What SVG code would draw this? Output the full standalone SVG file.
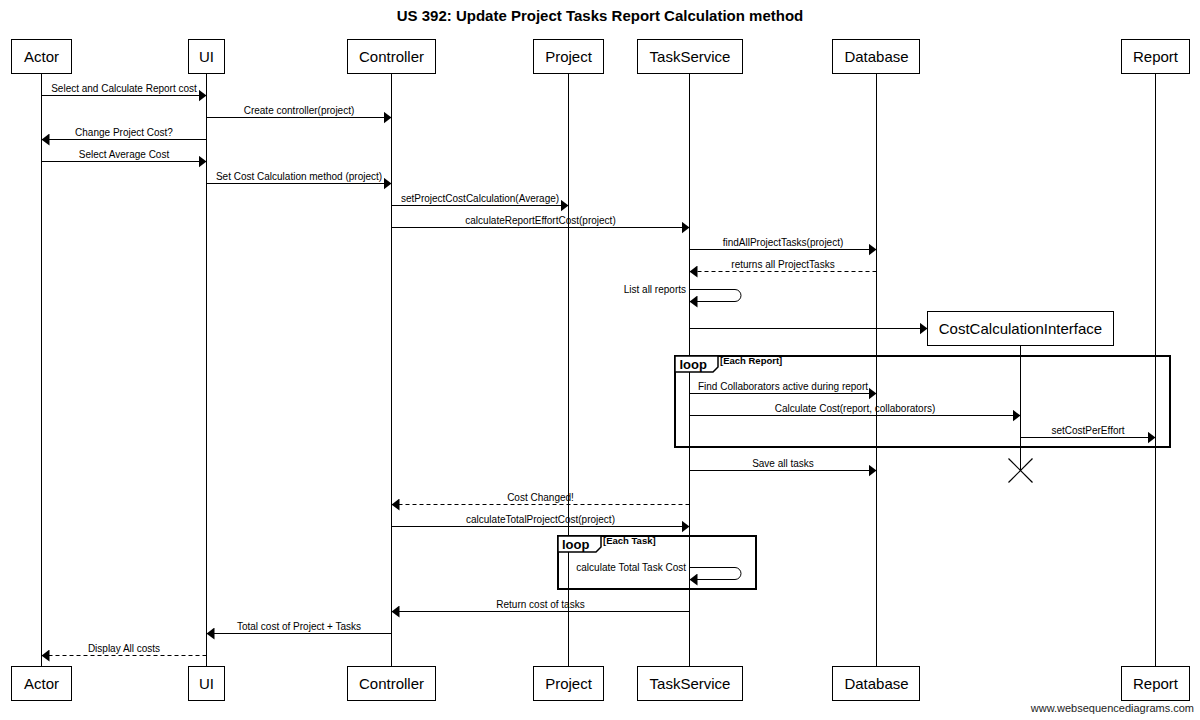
<svg xmlns="http://www.w3.org/2000/svg" width="1200" height="720" viewBox="0 0 1200 720">
<defs>
<style>
text{font-family:"Liberation Sans",Arial,sans-serif;fill:#000}
.title{font-size:15px;font-weight:bold;text-anchor:middle}
.pbox{fill:#fff;stroke:#000;stroke-width:1}
.pname{font-size:15px;text-anchor:middle}
.life{stroke:#000;stroke-width:1;fill:none}
.msg{stroke:#000;stroke-width:1;fill:none;marker-end:url(#arrow)}
.dash{stroke-dasharray:4 3}
.lbl{font-size:10px;text-anchor:middle}
.lblr{font-size:10px;text-anchor:end}
.frame{fill:none;stroke:#000;stroke-width:2}
.tab{fill:#fff;stroke:#000;stroke-width:1.5}
.kw{font-size:13px;font-weight:bold}
.cond{font-size:9.5px;font-weight:bold}
.wm{font-size:11px;text-anchor:end;fill:#222}
</style>
<marker id="arrow" markerUnits="userSpaceOnUse" markerWidth="8" markerHeight="12" refX="8" refY="6" orient="auto">
<path d="M0,0 L8,6 L0,12 Z" fill="#000"/>
</marker>
</defs>
<rect width="1200" height="720" fill="#fff"/>
<text class="title" x="600" y="21">US 392: Update Project Tasks Report Calculation method</text>

<g id="lifelines">
<line class="life" x1="41.5" y1="73.5" x2="41.5" y2="666.5"/>
<line class="life" x1="206.5" y1="73.5" x2="206.5" y2="666.5"/>
<line class="life" x1="391.5" y1="73.5" x2="391.5" y2="666.5"/>
<line class="life" x1="568.5" y1="73.5" x2="568.5" y2="666.5"/>
<line class="life" x1="689.5" y1="73.5" x2="689.5" y2="666.5"/>
<line class="life" x1="876.5" y1="73.5" x2="876.5" y2="666.5"/>
<line class="life" x1="1155.5" y1="73.5" x2="1155.5" y2="666.5"/>
<line class="life" x1="1020.5" y1="345.5" x2="1020.5" y2="470.5"/>
</g>

<g id="frames">
<rect class="frame" x="675" y="356" width="495" height="91"/>
<path class="tab" d="M675,356 H718 V367 L713,372 H675 Z"/>
<text class="kw" x="679.5" y="369">loop</text>
<text class="cond" x="720" y="364">[Each Report]</text>
<rect class="frame" x="558" y="536" width="198" height="53"/>
<path class="tab" d="M558,536 H601 V547 L596,552 H558 Z"/>
<text class="kw" x="562" y="549">loop</text>
<text class="cond" x="603" y="544">[Each Task]</text>
</g>

<g id="node-actor">
<rect class="pbox" x="11.5" y="39.5" width="60" height="34"/>
<text class="pname" x="41.5" y="62">Actor</text>
<rect class="pbox" x="11.5" y="666.5" width="60" height="34"/>
<text class="pname" x="41.5" y="689">Actor</text>
</g>
<g id="node-ui">
<rect class="pbox" x="188.5" y="39.5" width="36" height="34"/>
<text class="pname" x="206.5" y="62">UI</text>
<rect class="pbox" x="188.5" y="666.5" width="36" height="34"/>
<text class="pname" x="206.5" y="689">UI</text>
</g>
<g id="node-controller">
<rect class="pbox" x="347.5" y="39.5" width="88" height="34"/>
<text class="pname" x="391.5" y="62">Controller</text>
<rect class="pbox" x="347.5" y="666.5" width="88" height="34"/>
<text class="pname" x="391.5" y="689">Controller</text>
</g>
<g id="node-project">
<rect class="pbox" x="533.5" y="39.5" width="70" height="34"/>
<text class="pname" x="568.5" y="62">Project</text>
<rect class="pbox" x="533.5" y="666.5" width="70" height="34"/>
<text class="pname" x="568.5" y="689">Project</text>
</g>
<g id="node-taskservice">
<rect class="pbox" x="637.5" y="39.5" width="105" height="34"/>
<text class="pname" x="690" y="62">TaskService</text>
<rect class="pbox" x="637.5" y="666.5" width="105" height="34"/>
<text class="pname" x="690" y="689">TaskService</text>
</g>
<g id="node-database">
<rect class="pbox" x="832.5" y="39.5" width="87" height="34"/>
<text class="pname" x="876.5" y="62">Database</text>
<rect class="pbox" x="832.5" y="666.5" width="87" height="34"/>
<text class="pname" x="876.5" y="689">Database</text>
</g>
<g id="node-report">
<rect class="pbox" x="1121.5" y="39.5" width="68" height="34"/>
<text class="pname" x="1155.5" y="62">Report</text>
<rect class="pbox" x="1121.5" y="666.5" width="68" height="34"/>
<text class="pname" x="1155.5" y="689">Report</text>
</g>
<g id="node-costcalculationinterface">
<rect class="pbox" x="927.5" y="311.5" width="186" height="34"/>
<text class="pname" x="1020.5" y="334">CostCalculationInterface</text>
<line x1="1008.5" y1="458.5" x2="1032.5" y2="482.5" stroke="#000" stroke-width="1.2"/>
<line x1="1032.5" y1="458.5" x2="1008.5" y2="482.5" stroke="#000" stroke-width="1.2"/>
</g>

<g id="connectors">
<path class="msg" d="M41.5,95.5 H206.5"/>
<text class="lbl" x="124" y="92">Select and Calculate Report cost</text>
<path class="msg" d="M206.5,117.5 H391.5"/>
<text class="lbl" x="299" y="114">Create controller(project)</text>
<path class="msg" d="M206.5,139.5 H41.5"/>
<text class="lbl" x="124" y="136">Change Project Cost?</text>
<path class="msg" d="M41.5,161.5 H206.5"/>
<text class="lbl" x="124" y="158">Select Average Cost</text>
<path class="msg" d="M206.5,183.5 H391.5"/>
<text class="lbl" x="299" y="180">Set Cost Calculation method (project)</text>
<path class="msg" d="M391.5,205.5 H568.5"/>
<text class="lbl" x="480" y="202">setProjectCostCalculation(Average)</text>
<path class="msg" d="M391.5,227.5 H689.5"/>
<text class="lbl" x="540.5" y="224">calculateReportEffortCost(project)</text>
<path class="msg" d="M689.5,249.5 H876.5"/>
<text class="lbl" x="783" y="246">findAllProjectTasks(project)</text>
<path class="msg dash" d="M876.5,271.5 H689.5"/>
<text class="lbl" x="783" y="268">returns all ProjectTasks</text>
<path class="msg" d="M689.5,289.5 H735 A6,6 0 0 1 735,301.5 H689.5"/>
<text class="lblr" x="686" y="293">List all reports</text>
<path class="msg" d="M689.5,328.5 H927.5"/>
<path class="msg" d="M689.5,393.5 H876.5"/>
<text class="lbl" x="783" y="390">Find Collaborators active during report</text>
<path class="msg" d="M689.5,415.5 H1020.5"/>
<text class="lbl" x="855" y="412">Calculate Cost(report, collaborators)</text>
<path class="msg" d="M1020.5,437.5 H1155.5"/>
<text class="lbl" x="1088" y="434">setCostPerEffort</text>
<path class="msg" d="M689.5,470.5 H876.5"/>
<text class="lbl" x="783" y="467">Save all tasks</text>
<path class="msg dash" d="M689.5,504.5 H391.5"/>
<text class="lbl" x="540.5" y="501">Cost Changed!</text>
<path class="msg" d="M391.5,526.5 H689.5"/>
<text class="lbl" x="540.5" y="523">calculateTotalProjectCost(project)</text>
<path class="msg" d="M689.5,567.5 H735 A6,6 0 0 1 735,579.5 H689.5"/>
<text class="lblr" x="686" y="571">calculate Total Task Cost</text>
<path class="msg" d="M689.5,611.5 H391.5"/>
<text class="lbl" x="540.5" y="608">Return cost of tasks</text>
<path class="msg" d="M391.5,633.5 H206.5"/>
<text class="lbl" x="299" y="630">Total cost of Project + Tasks</text>
<path class="msg dash" d="M206.5,655.5 H41.5"/>
<text class="lbl" x="124" y="652">Display All costs</text>
</g>

<text class="wm" x="1194" y="712">www.websequencediagrams.com</text>
</svg>
